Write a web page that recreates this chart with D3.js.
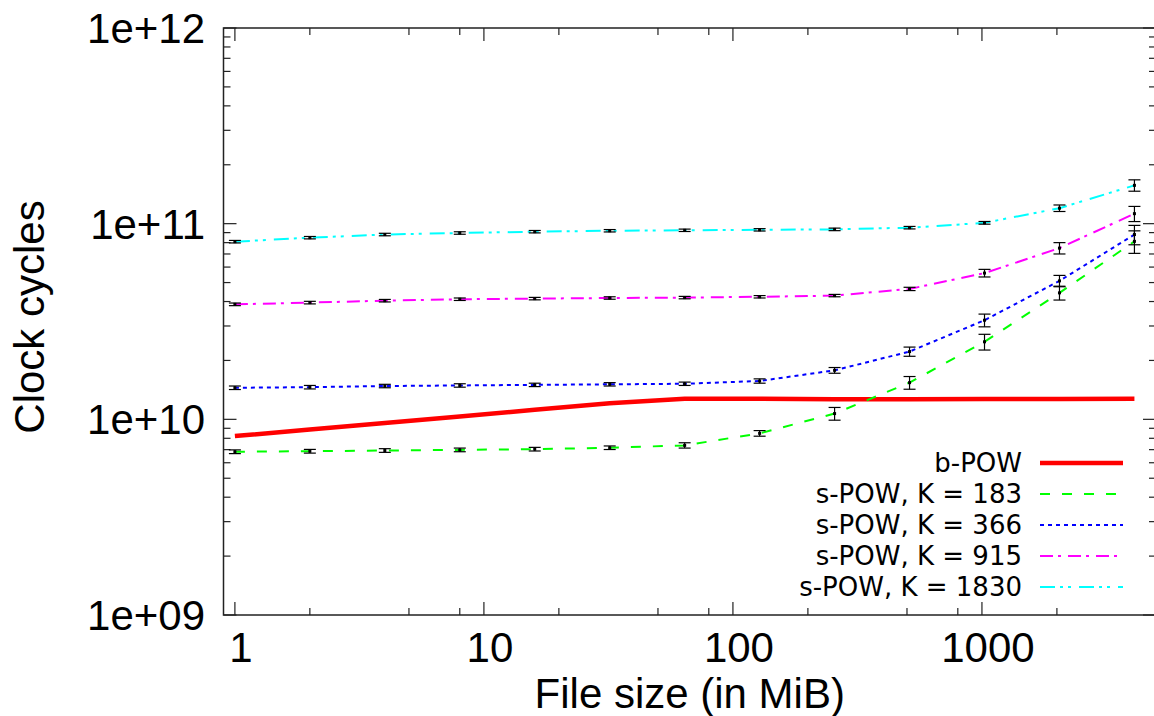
<!DOCTYPE html>
<html>
<head>
<meta charset="utf-8">
<script src="https://cdn.jsdelivr.net/npm/d3@7"></script>
<style>
  body { margin: 0; background: white; }
  svg { display: block; }
</style>
</head>
<body>
<div id="chart"></div>
<script>
// file sizes in MiB
var fileSizes = [1, 2, 4, 8, 16, 32, 64, 128, 256, 512, 1024, 2048, 4096]

// clock cycles, in units of 1e9
var bPow   = [8.21, 8.87, 9.58, 10.35, 11.19, 12.08, 12.75, 12.75, 12.68, 12.68, 12.7, 12.72, 12.75]
var sPow183  = [6.83, 6.87, 6.93, 6.98, 7.04, 7.16, 7.36, 8.48, 10.7, 15.4, 24.9, 44.3, 81.2]
var sPow366  = [14.5, 14.6, 14.8, 14.9, 15.0, 15.1, 15.2, 15.7, 17.8, 22.2, 32.1, 51.0, 88.0]
var sPow915  = [38.7, 39.5, 40.4, 41.1, 41.4, 41.7, 41.9, 42.3, 42.9, 46.4, 55.9, 75.0, 112.5]
var sPow1830 = [80.9, 84.8, 88.0, 89.6, 91.0, 92.0, 92.5, 93.0, 93.5, 95.4, 101, 120, 157]

// error bar half widths (same units)
var err183  = [0.15, 0.15, 0.15, 0.15, 0.15, 0.15, 0.23, 0.28, 0.8, 1.15, 2.3, 3.6, 10.7]
var err366  = [0.3, 0.3, 0.3, 0.3, 0.3, 0.3, 0.3, 0.4, 0.6, 1.2, 2.4, 3.4, 10.0]
var err915  = [0.6, 0.6, 0.6, 0.6, 0.6, 0.6, 0.6, 0.6, 0.6, 0.9, 2.5, 5.0, 10.0]
var err1830 = [1.2, 1.2, 1.3, 1.3, 1.3, 1.3, 1.3, 1.3, 1.4, 1.4, 1.6, 4.6, 10.5]

var seriesNames = ["b-POW", "s-POW, K = 183", "s-POW, K = 366", "s-POW, K = 915", "s-POW, K = 1830"]

var yTickLabels = ["1e+09", "1e+10", "1e+11", "1e+12"]
var xTickLabels = ["1", "10", "100", "1000"]

var outerWidth = 1154, outerHeight = 716
var plotLeft = 223.5, plotRight = 1156, plotTop = 28, plotBottom = 615

var svg = d3.select("#chart").append("svg")
    .attr("width", outerWidth)
    .attr("height", outerHeight)

var xScale = d3.scaleLog().domain([0.9, 5000]).range([plotLeft, plotRight])
var yScale = d3.scaleLog().domain([1e9, 1e12]).range([plotBottom, plotTop])

var tickFont = "'Liberation Sans', Arial, sans-serif"
var keyFont = "'DejaVu Sans', sans-serif"

// series styles
var styles = [
    {color: "#ff0000", width: 4.5, dash: null},
    {color: "#00ff00", width: 2, dash: "10,12"},
    {color: "#0000ff", width: 2, dash: "4,4"},
    {color: "#ff00ff", width: 2, dash: "13,5,3,7"},
    {color: "#00ffff", width: 2, dash: "15,5,3,5,3,8"}
]

var allValues = [bPow, sPow183, sPow366, sPow915, sPow1830]
var allErrors = [null, err183, err366, err915, err1830]

// ---- axis ticks (mirrored on all four sides) ----
var border = svg.append("g")

var yMajor = [1e9, 1e10, 1e11, 1e12]
var yMinor = []
yMajor.slice(0, 3).forEach(function(d) {
    for (var k = 2; k <= 9; k++) yMinor.push(d * k)
})

var xMajor = [1, 10, 100, 1000]
var xMinor = []
xMajor.forEach(function(d) {
    [2, 5, 8].forEach(function(k) {
        if (d * k < 5000) xMinor.push(d * k)
    })
})

function drawYTicks(vals, len) {
    vals.forEach(function(v) {
        border.append("line")
            .attr("x1", plotLeft).attr("x2", plotLeft + len)
            .attr("y1", yScale(v)).attr("y2", yScale(v))
            .attr("stroke", "#222").attr("stroke-width", 1.2)
        border.append("line")
            .attr("x1", plotRight).attr("x2", plotRight - len)
            .attr("y1", yScale(v)).attr("y2", yScale(v))
            .attr("stroke", "#222").attr("stroke-width", 1.2)
    })
}
function drawXTicks(vals, len) {
    vals.forEach(function(v) {
        border.append("line")
            .attr("x1", xScale(v)).attr("x2", xScale(v))
            .attr("y1", plotBottom).attr("y2", plotBottom - len)
            .attr("stroke", "#222").attr("stroke-width", 1.2)
        border.append("line")
            .attr("x1", xScale(v)).attr("x2", xScale(v))
            .attr("y1", plotTop).attr("y2", plotTop + len)
            .attr("stroke", "#222").attr("stroke-width", 1.2)
    })
}
drawYTicks(yMajor, 13)
drawYTicks(yMinor, 7)
drawXTicks(xMajor, 13)
drawXTicks(xMinor, 7)

border.append("rect")
    .attr("x", plotLeft).attr("y", plotTop)
    .attr("width", plotRight - plotLeft).attr("height", plotBottom - plotTop)
    .attr("fill", "none")
    .attr("stroke", "#222").attr("stroke-width", 1.5)

// tick labels
svg.selectAll(".ylab")
    .data(yMajor)
    .enter()
    .append("text")
    .attr("class", "ylab")
    .attr("x", 205)
    .attr("y", function(d) { return yScale(d) + 15 })
    .attr("text-anchor", "end")
    .style("font-family", tickFont)
    .style("font-size", "42px")
    .text(function(d, i) { return yTickLabels[i] })

svg.selectAll(".xlab")
    .data(xMajor)
    .enter()
    .append("text")
    .attr("class", "xlab")
    .attr("x", function(d) { return xScale(d) + 6 })
    .attr("y", 662)
    .attr("text-anchor", "middle")
    .style("font-family", tickFont)
    .style("font-size", "42px")
    .text(function(d, i) { return xTickLabels[i] })

// axis titles
svg.append("text")
    .attr("x", (plotLeft + plotRight) / 2)
    .attr("y", 708)
    .attr("text-anchor", "middle")
    .style("font-family", tickFont)
    .style("font-size", "42px")
    .text("File size (in MiB)")

svg.append("text")
    .attr("transform", "translate(44,317) rotate(-90)")
    .attr("text-anchor", "middle")
    .style("font-family", tickFont)
    .style("font-size", "42px")
    .text("Clock cycles")

// ---- series ----
var plotArea = svg.append("g")

var line = d3.line()
    .x(function(d) { return xScale(d.x) })
    .y(function(d) { return yScale(d.y) })

allValues.forEach(function(vals, si) {
    var pts = fileSizes.map(function(s, i) {
        return {x: s, y: vals[i] * 1e9, e: allErrors[si] ? allErrors[si][i] * 1e9 : 0}
    })
    var st = styles[si]

    plotArea.append("path")
        .datum(pts)
        .attr("d", line)
        .attr("fill", "none")
        .attr("stroke", st.color)
        .attr("stroke-width", st.width)
        .attr("stroke-dasharray", st.dash)

    if (!allErrors[si]) return

    var bars = plotArea.append("g").selectAll("g")
        .data(pts)
        .enter()
        .append("g")

    bars.append("line")
        .attr("x1", function(d) { return xScale(d.x) })
        .attr("x2", function(d) { return xScale(d.x) })
        .attr("y1", function(d) { return yScale(d.y - d.e) })
        .attr("y2", function(d) { return yScale(d.y + d.e) })
        .attr("stroke", "black").attr("stroke-width", 1.2)
    bars.append("line")
        .attr("x1", function(d) { return xScale(d.x) - 6 })
        .attr("x2", function(d) { return xScale(d.x) + 6 })
        .attr("y1", function(d) { return yScale(d.y - d.e) })
        .attr("y2", function(d) { return yScale(d.y - d.e) })
        .attr("stroke", "black").attr("stroke-width", 1.2)
    bars.append("line")
        .attr("x1", function(d) { return xScale(d.x) - 6 })
        .attr("x2", function(d) { return xScale(d.x) + 6 })
        .attr("y1", function(d) { return yScale(d.y + d.e) })
        .attr("y2", function(d) { return yScale(d.y + d.e) })
        .attr("stroke", "black").attr("stroke-width", 1.2)
    bars.append("rect")
        .attr("x", function(d) { return xScale(d.x) - 1.5 })
        .attr("y", function(d) { return yScale(d.y) - 1.5 })
        .attr("width", 3).attr("height", 3)
        .attr("fill", "black")
})

// ---- legend ----
var legend = svg.append("g")
var keyRows = [463, 494, 525, 556, 587]

seriesNames.forEach(function(name, i) {
    legend.append("text")
        .attr("x", 1022)
        .attr("y", keyRows[i] + 9)
        .attr("text-anchor", "end")
        .style("font-family", keyFont)
        .style("font-size", "26px")
        .text(name)
    legend.append("line")
        .attr("x1", 1040).attr("x2", 1123)
        .attr("y1", keyRows[i]).attr("y2", keyRows[i])
        .attr("stroke", styles[i].color)
        .attr("stroke-width", styles[i].width)
        .attr("stroke-dasharray", styles[i].dash)
})
</script>
</body>
</html>
